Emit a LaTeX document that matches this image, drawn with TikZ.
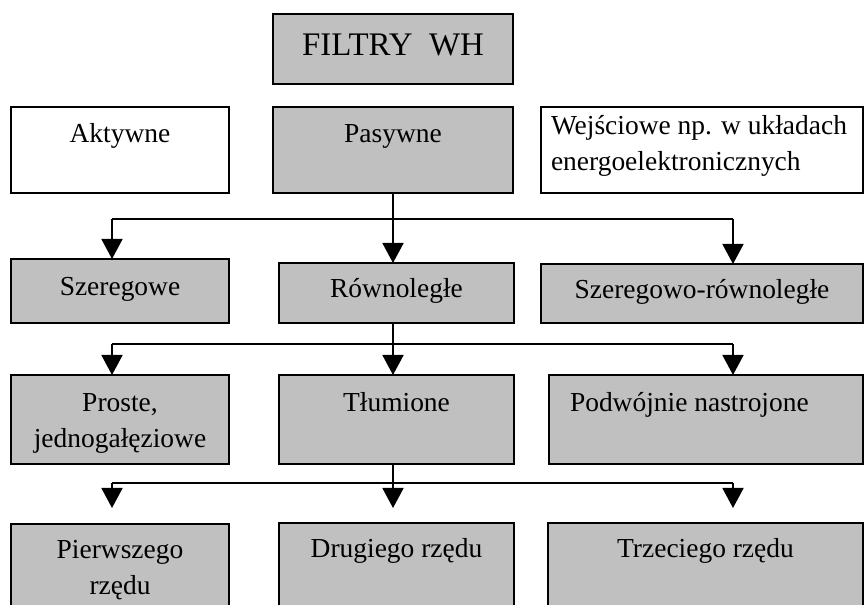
\documentclass[tikz,border=0pt]{standalone}
\usepackage{fontspec}
\setmainfont{Liberation Serif}
\usetikzlibrary{arrows.meta}
\newdimen\pxu \pxu=0.75pt
\definecolor{boxgray}{RGB}{192,192,192}
\tikzset{
 basebox/.style={draw=black, line width=1.5pt, inner sep=0pt, outer sep=0pt, anchor=north west, font=\fontsize{20.6}{27}\selectfont},
 gbox/.style={basebox, fill=boxgray},
 wbox/.style={basebox, fill=white},
 conn/.style={line width=1.3pt},
 arr/.style={conn, -{Triangle[length=15pt,width=15.75pt]}},
}
% #1 name, #2 style, #3 x1, #4 y1, #5 x2, #6 y2, #7 first baseline offset, #8 content
\newcommand{\bx}[8]{%
 \pgfmathsetmacro\bxw{#5-#3}\pgfmathsetmacro\bxh{#6-#4}%
 \node[#2] (#1) at (#3,#4) {\parbox[c][\bxh\pxu][t]{\bxw\pxu}{\rule{0pt}{#7\pxu}#8}};}
\begin{document}
\begin{tikzpicture}[x=0.75pt,y=-0.75pt]
\useasboundingbox (0,0) rectangle (865,605);
\clip (0,0) rectangle (865,605);
% row 1
\bx{filtry}{gbox}{273}{14}{513}{84}{42}{\centering\fontsize{24.7}{29}\selectfont FILTRY\ \ WH}
% row 2
\bx{aktywne}{wbox}{11}{107}{229}{193}{36}{\centering Aktywne}
\bx{pasywne}{gbox}{273}{107}{513}{193}{36}{\centering Pasywne}
\bx{wejsciowe}{wbox}{541}{107}{863}{193}{28}{\raggedright\leftskip=10\pxu\relax Wejściowe np. w układach\\energoelektronicznych}
% row 3
\bx{szeregowe}{gbox}{11}{259}{229}{323}{37}{\centering Szeregowe}
\bx{rownolegle}{gbox}{279}{263}{514}{323}{35}{\centering Równoległe}
\bx{szerrown}{gbox}{541}{264}{863}{323}{35}{\centering Szeregowo-równoległe}
% row 4
\bx{proste}{gbox}{11}{375}{229}{464}{37}{\centering Proste,\\jednogałęziowe}
\bx{tlumione}{gbox}{279}{375}{514}{464}{37}{\centering Tłumione}
\bx{podwojnie}{gbox}{549}{375}{863}{464}{37}{\raggedright\leftskip=21\pxu\relax Podwójnie nastrojone}
% row 5
\bx{pierwszego}{gbox}{11}{524}{229}{625}{35}{\centering Pierwszego\\rzędu}
\bx{drugiego}{gbox}{279}{523}{514}{625}{35}{\centering Drugiego rzędu}
\bx{trzeciego}{gbox}{548}{523}{863}{625}{35}{\centering Trzeciego rzędu}
% connectors level 1
\coordinate (j1l) at (112,219);
\coordinate (j1r) at (733,219);
\draw[conn] (j1l) -- (j1r);
\draw[arr] (pasywne.south) -- (pasywne.south |- rownolegle.north);
\draw[arr] (j1l) -- (j1l |- szeregowe.north);
\draw[arr] (j1r) -- (j1r |- szerrown.north);
% connectors level 2
\coordinate (j2l) at (112,344);
\coordinate (j2r) at (733,344);
\draw[conn] (j2l) -- (j2r);
\draw[arr] (pasywne.south |- rownolegle.south) -- (pasywne.south |- tlumione.north);
\draw[arr] (j2l) -- (j2l |- proste.north);
\draw[arr] (j2r) -- (j2r |- podwojnie.north);
% connectors level 3
\coordinate (j3l) at (112,483);
\coordinate (j3r) at (733,483);
\coordinate (e3l) at (112,508);
\coordinate (e3r) at (733,508);
\draw[conn] (j3l) -- (j3r);
\draw[arr] (pasywne.south |- tlumione.south) -- (pasywne.south |- e3l);
\draw[arr] (j3l) -- (e3l);
\draw[arr] (j3r) -- (e3r);
\end{tikzpicture}
\end{document}
